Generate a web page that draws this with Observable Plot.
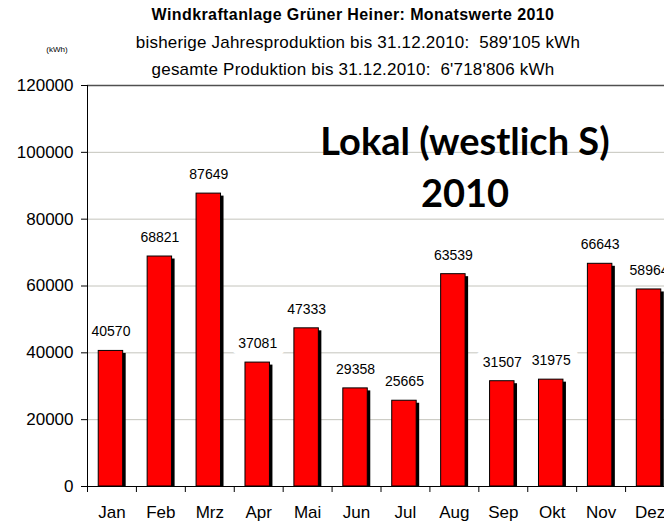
<!DOCTYPE html>
<html>
<head>
<meta charset="utf-8">
<script src="https://cdn.jsdelivr.net/npm/d3@7"></script>
<script src="https://cdn.jsdelivr.net/npm/@observablehq/plot@0.6"></script>
<style>
  html, body { margin: 0; padding: 0; background: #fff; overflow: hidden; }
  #wrap { position: relative; width: 664px; height: 522px; overflow: hidden; }
  .t { position: absolute; white-space: pre; font-family: "Liberation Sans", Arial, sans-serif; color: #000; transform: translate(-50%, -50%); }
  #chart { position: absolute; left: 0; top: 0; width: 676px; }
  #chart svg { max-width: none !important; }
</style>
</head>
<body>
<div id="wrap">
  <div id="chart"></div>
  <div class="t" id="title" style="left:353px; top:15px; font-size:16px; font-weight:bold; letter-spacing:0.4px;"></div>
  <div class="t" id="sub1" style="left:358px; top:43px; font-size:17px; letter-spacing:0.2px;"></div>
  <div class="t" id="sub2" style="left:353px; top:70px; font-size:17px; letter-spacing:0.2px;"></div>
  <div class="t" id="unit" style="left:57px; top:49px; font-size:8px;"></div>
  <div class="t" id="ov1" style="left:465px; top:140px; font-size:38px; font-weight:bold; font-family:Lato, 'Open Sans', sans-serif;"></div>
  <div class="t" id="ov2" style="left:465px; top:192px; font-size:38px; font-weight:bold; font-family:Lato, 'Open Sans', sans-serif;"></div>
</div>
<script>
const months = ["Jan", "Feb", "Mrz", "Apr", "Mai", "Jun", "Jul", "Aug", "Sep", "Okt", "Nov", "Dez"];
const values = [40570, 68821, 87649, 37081, 47333, 29358, 25665, 63539, 31507, 31975, 66643, 58964];
const yTicks = [0, 20000, 40000, 60000, 80000, 100000, 120000];
const titleText = "Windkraftanlage Grüner Heiner: Monatswerte 2010";
const sub1Text = "bisherige Jahresproduktion bis 31.12.2010:  589'105 kWh";
const sub2Text = "gesamte Produktion bis 31.12.2010:  6'718'806 kWh";
const unitText = "(kWh)";
const overlay1 = "Lokal (westlich S)";
const overlay2 = "2010";

document.getElementById("title").textContent = titleText;
document.getElementById("sub1").textContent = sub1Text;
document.getElementById("sub2").textContent = sub2Text;
document.getElementById("unit").textContent = unitText;
document.getElementById("ov1").textContent = overlay1;
document.getElementById("ov2").textContent = overlay2;

const data = months.map((m, i) => ({month: m, value: values[i]}));
const W = 676, mL = 87, mR = 2;
const step = (W - mL - mR) / months.length;

const chart = Plot.plot({
  width: W,
  height: 522,
  marginTop: 85,
  marginBottom: 36,
  marginLeft: mL,
  marginRight: mR,
  style: {fontFamily: "'Liberation Sans', Arial, sans-serif", background: "transparent", color: "#000"},
  x: {domain: months, paddingInner: 0.5, paddingOuter: 0.25, align: 0.5, round: false, label: null},
  y: {domain: [0, 120000], label: null},
  marks: [
    Plot.gridY(yTicks.filter(d => d > 0 && d < 120000), {stroke: "#c4c4bc", strokeOpacity: 1}),
    Plot.ruleY([120000], {stroke: "#505050", strokeWidth: 1.6}),
    Plot.text(data, {x: "month", y: "value", text: d => String(d.value), dy: -19, dx: -1, fontSize: 14, fill: "#000", stroke: "white", strokeWidth: 16, strokeLinejoin: "round"}),
    Plot.barY(data, {x: "month", y: "value", fill: "black", dx: 2, insetTop: 2.5}),
    Plot.barY(data, {x: "month", y: "value", fill: "#ff0000", stroke: "black", strokeWidth: 1, dx: -1}),
    Plot.ruleY([0], {stroke: "black", strokeWidth: 1.2}),
    Plot.ruleX(months, {x: d => d, y1: 0, y2: 0, insetBottom: -6, dx: -step / 2, stroke: "black"}),
    Plot.axisY({ticks: yTicks, tickSize: 6, tickPadding: 8, fontSize: 17, tickFormat: d => String(d), label: null}),
    Plot.ruleX([months[0]], {x: d => d, y1: 0, y2: 120000, dx: -step / 2, stroke: "black"}),
    Plot.axisX({tickSize: 0, tickPadding: 19, fontSize: 17, label: null})
  ]
});
document.getElementById("chart").appendChild(chart);
</script>
</body>
</html>
